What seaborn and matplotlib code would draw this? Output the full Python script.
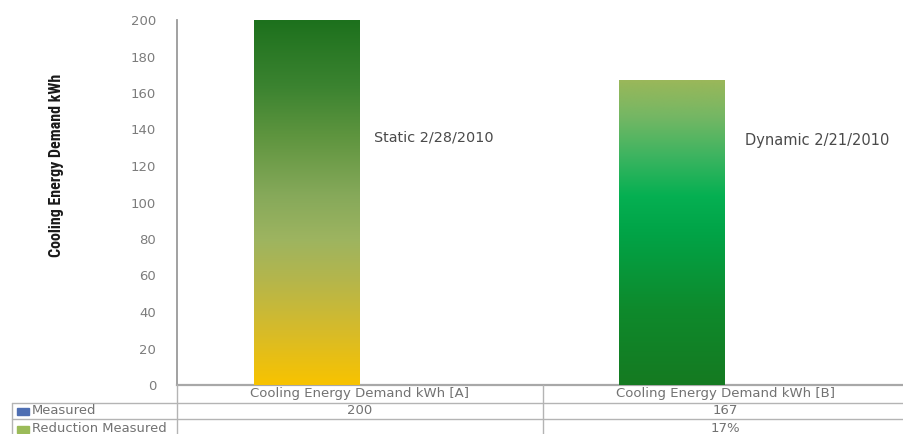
import numpy as np
import pandas as pd
import matplotlib
matplotlib.use("Agg")
import matplotlib.pyplot as plt
import seaborn as sns
from matplotlib import font_manager
from matplotlib.colors import LinearSegmentedColormap
from matplotlib.lines import Line2D
from matplotlib.transforms import blended_transform_factory

# ---- data -------------------------------------------------------------
categories = ["Cooling Energy Demand kWh [A]", "Cooling Energy Demand kWh [B]"]
series_names = ["Measured", "Reduction Measured"]
measured = [200, 167]
reduction_measured = [0.0, 0.17]          # 17 % reduction of B against A
reduction_labels = ["", "17%"]
bar_notes = ["Static 2/28/2010", "Dynamic 2/21/2010"]
y_ticks = list(range(0, 201, 20))
y_label = "Cooling Energy Demand kWh"

df = pd.DataFrame({
    "category": categories * 2,
    "series": [series_names[0]] * 2 + [series_names[1]] * 2,
    "value": measured + reduction_measured,
})

# ---- style ------------------------------------------------------------
sns.set_theme(style="white")
plt.rcParams["font.family"] = ["DejaVu Sans"]


def first_font(candidates):
    for name in candidates:
        try:
            font_manager.findfont(font_manager.FontProperties(family=name),
                                  fallback_to_default=False)
            return name
        except Exception:
            continue
    return "DejaVu Sans"


narrow_font = first_font(["Liberation Sans Narrow", "Roboto Condensed",
                          "Open Sans Condensed", "Roboto", "Liberation Sans"])

series_colors = ["#4f6fb3", "#9bbb59"]
grid_col = "#b4b4b4"
text_col = "#727272"
tick_col = "#7c7c7c"
note_col = "#4a4a4a"

# vertical gradients (bottom -> top) for the measured bars
grad_static = LinearSegmentedColormap.from_list("static", [
    (0.00, "#f8c300"), (0.15, "#d6bb2a"), (0.28, "#b6b64a"), (0.40, "#9db460"),
    (0.52, "#86a95a"), (0.68, "#5f953f"), (0.82, "#3b8330"), (1.00, "#1d711d")])
grad_dynamic = LinearSegmentedColormap.from_list("dynamic", [
    (0.00, "#157a21"), (0.25, "#0e8a2c"), (0.50, "#01a447"), (0.62, "#05b052"),
    (0.75, "#3cb460"), (0.88, "#74b764"), (1.00, "#9ab75a")])
bar_gradients = [grad_static, grad_dynamic]

W, H = 904, 434
fig = plt.figure(figsize=(W / 100, H / 100), dpi=100)
ax = fig.add_axes([177 / W, 49 / H, 731 / W, 365 / H])
renderer = fig.canvas.get_renderer()


def fit(t, px, along="width"):
    """Scale the font size of a text so that its extent equals px pixels."""
    bb = t.get_window_extent(renderer)
    cur = bb.width if along == "width" else bb.height
    t.set_fontsize(t.get_fontsize() * px / cur)
    return t


sns.barplot(data=df, x="category", y="value", hue="series",
            hue_order=series_names, order=categories, palette=series_colors,
            width=0.58, legend=False, ax=ax, saturation=1)

# gradient fill of the measured bars
grad = np.linspace(0, 1, 256).reshape(-1, 1)
for patch, cmap in zip(ax.containers[0].patches, bar_gradients):
    x0, y0 = patch.get_x(), patch.get_y()
    x1, y1 = x0 + patch.get_width(), y0 + patch.get_height()
    patch.set_edgecolor("none")
    im = ax.imshow(grad, origin="lower", extent=[x0, x1, y0, y1],
                   aspect="auto", cmap=cmap, zorder=3, interpolation="bicubic")
    im.set_clip_path(patch)
for patch in ax.containers[1].patches:
    patch.set_edgecolor("none")

ax.set_xlim(-0.5, 1.5)
ax.set_ylim(0, 200)
ax.set_yticks(y_ticks)
ax.set_yticklabels([str(t) for t in y_ticks], fontsize=9.5, color=tick_col)
ax.tick_params(axis="y", length=0, pad=15)
ax.set_xticks([])
ax.set_xlabel("")
ax.set_ylabel("")
for side in ("top", "right"):
    ax.spines[side].set_visible(False)
ax.spines["left"].set_color("#9a9a9a")
ax.spines["left"].set_linewidth(1.3)
ax.spines["bottom"].set_color("#a8a8a8")
ax.spines["bottom"].set_linewidth(1.6)

ylab = fig.text(57 / W, 1 - 165 / H, y_label, rotation=90, ha="center",
                va="center", fontsize=12, fontweight="bold", color="#1a1a1a",
                family=[narrow_font, "DejaVu Sans"])
fit(ylab, 184, along="height")

# notes beside the bars
n1 = ax.text(0.038, 135.5, bar_notes[0], ha="left", va="center", fontsize=9,
             color=note_col)
fit(n1, 120)
n2 = ax.text(1.053, 134, bar_notes[1], ha="left", va="center", fontsize=9,
             color=note_col)
fit(n2, 144)

# ---- data table under the axis ---------------------------------------
tr = blended_transform_factory(ax.transData, fig.transFigure)
row_edges = [49 / H, 31 / H, 15 / H, 0.0]
row_mid = [41 / H, 23 / H, 6 / H]
left_border = 12 / W

for yb in row_edges[1:3]:
    fig.add_artist(Line2D([left_border, 1.0], [yb, yb], transform=fig.transFigure,
                          color=grid_col, lw=1.0))
for xb in (-0.5, 0.5):
    fig.add_artist(Line2D([xb, xb], [0, row_edges[0]], transform=tr,
                          color=grid_col, lw=1.0))
fig.add_artist(Line2D([left_border, left_border], [0, row_edges[1]],
                      transform=fig.transFigure, color=grid_col, lw=1.0))

for i, cat in enumerate(categories):
    t = fig.text(i, row_mid[0], cat, transform=tr, ha="center", va="center",
                 fontsize=8, color=text_col)
    fit(t, 219)
    fig.text(i, row_mid[1], str(measured[i]), transform=tr, ha="center",
             va="center", fontsize=t.get_fontsize(), color=text_col)
    fig.text(i, row_mid[2], reduction_labels[i], transform=tr, ha="center",
             va="center", fontsize=t.get_fontsize(), color=text_col)

# legend keys and series names in the first column
probe = fig.text(0, 0, series_names[1], fontsize=8)
fit(probe, 135)
legend_size = probe.get_fontsize()
probe.remove()

square_y = [411, 429]
for r, (name, col) in enumerate(zip(series_names, series_colors)):
    fig.patches.append(plt.Rectangle((17 / W, (H - square_y[r] - 3.5) / H),
                                     12 / W, 7 / H, transform=fig.transFigure,
                                     color=col, figure=fig))
    fig.text(32 / W, row_mid[r + 1], name, ha="left", va="center",
             fontsize=legend_size, color=text_col)

fig.savefig("out.png", dpi=100, facecolor="white")
